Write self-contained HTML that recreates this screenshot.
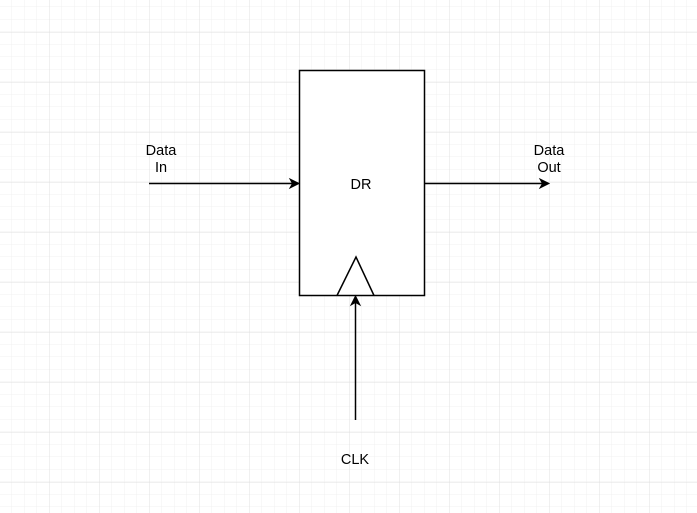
<!DOCTYPE html>
<html><head><meta charset="utf-8"><style>
html,body{margin:0;padding:0;background:#fff;}
svg{display:block}
text{font-family:"Liberation Sans",Arial,sans-serif;font-size:14.5px;fill:#000}
</style></head><body>
<svg width="697" height="513" viewBox="0 0 697 513" xmlns="http://www.w3.org/2000/svg">
<defs>
<pattern id="minor" width="12.5" height="12.5" patternUnits="userSpaceOnUse" x="-0.5" y="7">
<path d="M12.5 0V12.5M0 12.5H12.5" stroke="#f0f0f0" stroke-width="1" fill="none"/>
</pattern>
<pattern id="major" width="50" height="50" patternUnits="userSpaceOnUse" x="-0.5" y="-17.5">
<path d="M50 0V50M0 50H50" stroke="#e0e0e0" stroke-width="1" fill="none"/>
</pattern>
</defs>
<rect width="697" height="513" fill="url(#minor)"/>
<rect width="697" height="513" fill="url(#major)"/>
<rect x="299.5" y="70.5" width="125" height="225" fill="#fff" stroke="#000" stroke-width="1.5"/>
<path d="M337 295.5 L356 257 L374 295.5" fill="none" stroke="#000" stroke-width="1.5"/>
<line x1="149" y1="183.5" x2="292" y2="183.5" stroke="#000" stroke-width="1.5"/>
<path d="M299 183.5 L290 179 L292.5 183.5 L290 188 Z" fill="#000" stroke="#000"/>
<line x1="424" y1="183.5" x2="542" y2="183.5" stroke="#000" stroke-width="1.5"/>
<path d="M549 183.5 L540 179 L542.5 183.5 L540 188 Z" fill="#000" stroke="#000"/>
<line x1="355.5" y1="420" x2="355.5" y2="303" stroke="#000" stroke-width="1.5"/>
<path d="M355.5 296 L351 305 L355.5 302.5 L360 305 Z" fill="#000" stroke="#000"/>
<text x="361" y="189" text-anchor="middle">DR</text>
<text x="161" y="155" text-anchor="middle">Data</text>
<text x="161" y="172" text-anchor="middle">In</text>
<text x="549" y="155" text-anchor="middle">Data</text>
<text x="549" y="172" text-anchor="middle">Out</text>
<text x="355" y="464" text-anchor="middle">CLK</text>
</svg>
</body></html>
